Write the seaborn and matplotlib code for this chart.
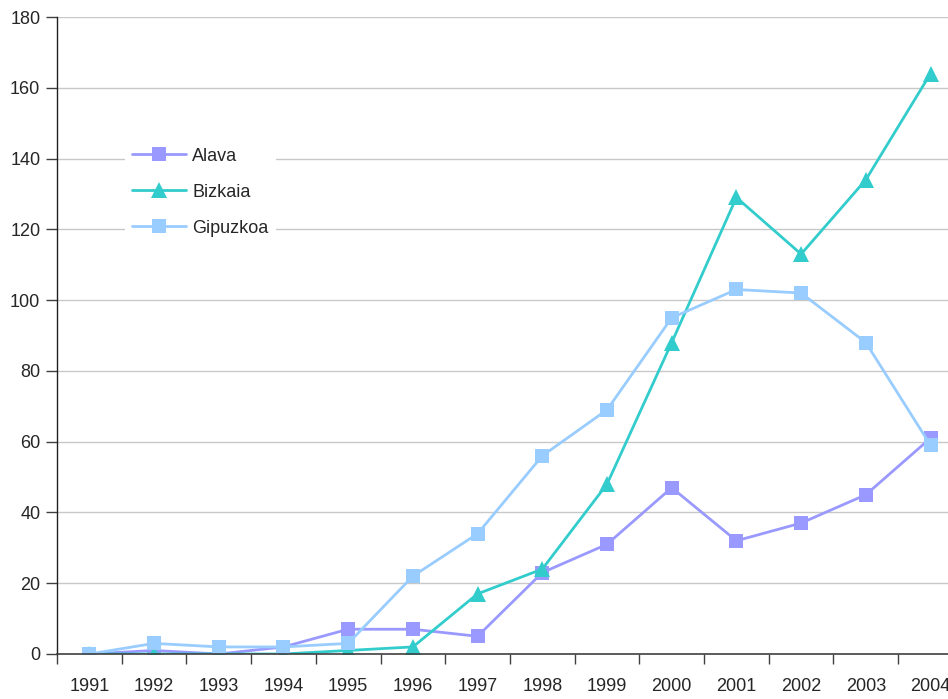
import matplotlib

matplotlib.use("Agg")

import matplotlib.pyplot as plt
import numpy as np
import pandas as pd
import seaborn as sns

years = list(range(1991, 2005))
alava = [0, 1, 0, 2, 7, 7, 5, 23, 31, 47, 32, 37, 45, 61]
bizkaia = [0, 0, 0, 0, 1, 2, 17, 24, 48, 88, 129, 113, 134, 164]
gipuzkoa = [0, 3, 2, 2, 3, 22, 34, 56, 69, 95, 103, 102, 88, 59]

series = ["Alava", "Bizkaia", "Gipuzkoa"]
colors = {"Alava": "#9999FF", "Bizkaia": "#33CCCC", "Gipuzkoa": "#99CCFF"}
markers = {"Alava": "s", "Bizkaia": "^", "Gipuzkoa": "s"}

df = pd.DataFrame({
    "year": years * 3,
    "value": alava + bizkaia + gipuzkoa,
    "series": ["Alava"] * 14 + ["Bizkaia"] * 14 + ["Gipuzkoa"] * 14,
})

sns.set_style("white")
plt.rcParams["font.family"] = ["Liberation Sans", "DejaVu Sans"]

fig = plt.figure(figsize=(9.48, 6.99), dpi=100)
ax = fig.add_axes([57 / 948, 45 / 699, 1 - 57 / 948, (654 - 17) / 699])

ax.grid(axis="y", color="#c8c8c8", linewidth=1)
ax.set_axisbelow(True)

sns.lineplot(data=df, x="year", y="value", hue="series", style="series",
             hue_order=series, style_order=series, palette=colors,
             markers=markers, dashes=False, linewidth=2, markersize=10,
             markeredgewidth=0, ax=ax)

# triangles look a bit bigger than the squares in the original
for line in ax.lines:
    if line.get_marker() == "^":
        line.set_markersize(12)

ax.set_yticks(range(0, 181, 20))
ax.set_xticks(years)
ax.set_xticks(np.arange(1990.5, 2004.6, 1), minor=True)
ax.set_xlim(1990.5, 2004.27)
ax.set_ylim(0, 180)
ax.tick_params(axis="x", which="major", length=0, pad=17, labelsize=13)
ax.tick_params(axis="x", which="minor", length=7, width=1, color="#404040",
               direction="out", bottom=True)
ax.tick_params(axis="y", length=8, width=1, color="#404040", direction="out",
               left=True, labelsize=13, pad=4)
ax.set_xlabel("")
ax.set_ylabel("")

for side in ["top", "right"]:
    ax.spines[side].set_visible(False)
ax.spines["left"].set_color("#202020")
ax.spines["bottom"].set_color("#404040")
ax.spines["left"].set_linewidth(1)
ax.spines["bottom"].set_linewidth(1.2)

leg = ax.legend(loc="upper left", bbox_to_anchor=(0.076, 0.806), frameon=True,
                fontsize=13, handlelength=3, labelspacing=1.05,
                handletextpad=0.35, borderpad=0.4, borderaxespad=0)
leg.get_frame().set_edgecolor("none")
leg.get_frame().set_facecolor("white")
leg.get_frame().set_alpha(1)
for h in leg.legend_handles:
    if h.get_marker() == "^":
        h.set_markersize(12)

fig.savefig("out.png", dpi=100)
plt.close()
